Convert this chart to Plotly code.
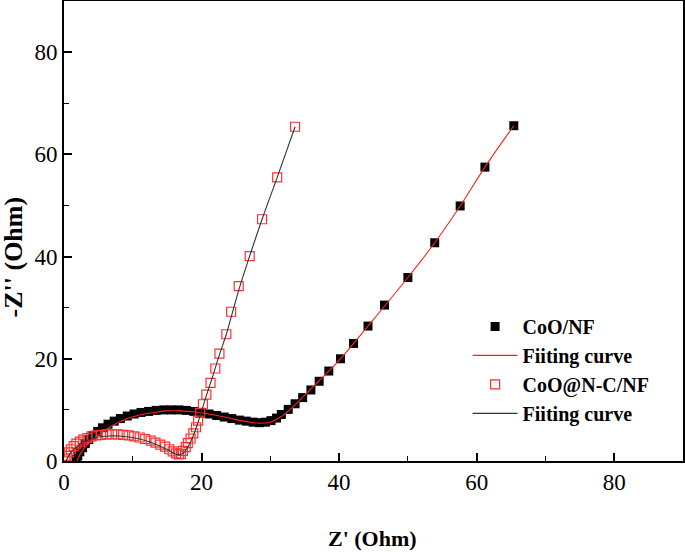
import plotly.graph_objects as go

# CoO/NF measured data
coo_x = [1.8, 2.0, 2.3, 2.7, 3.1, 3.6, 4.2, 4.9, 5.6, 6.4, 7.3, 8.2, 9.2, 10.2, 11.2, 12.3, 13.4, 14.5,
         15.6, 16.7, 17.8, 18.9, 20.0, 21.1, 22.2, 23.3, 24.4, 25.5, 26.5, 27.5, 28.4, 29.3, 30.1, 30.9,
         31.6, 32.6, 33.6, 34.7, 35.9, 37.1, 38.5, 40.2, 42.1, 44.2, 46.6, 50.0, 53.9, 57.6, 61.2, 65.4]
coo_y = [0.3, 1.0, 1.8, 2.6, 3.4, 4.2, 5.0, 5.8, 6.5, 7.2, 7.8, 8.3, 8.8, 9.2, 9.5, 9.7, 9.9, 10.0,
         10.0, 10.0, 9.9, 9.7, 9.5, 9.2, 8.9, 8.6, 8.3, 8.0, 7.8, 7.6, 7.5, 7.6, 7.9, 8.4,
         9.1, 10.1, 11.2, 12.4, 13.9, 15.6, 17.6, 20.0, 23.0, 26.4, 30.5, 35.9, 42.7, 49.9, 57.5, 65.6]

# CoO/NF fitting curve
coo_fit_x = [1.9, 2.3, 3.0, 4.0, 5.5, 7.0, 9.0, 11.0, 13.0, 15.0, 17.0, 19.0, 21.0, 23.0, 25.0,
             27.0, 28.5, 30.0, 31.5, 33.0, 35.0, 37.1, 40.2, 44.2, 50.0, 53.9, 57.6, 61.2, 65.4]
coo_fit_y = [0.0, 1.2, 2.6, 4.0, 5.6, 6.9, 8.2, 9.0, 9.5, 9.8, 9.8, 9.6, 9.2, 8.7, 8.1,
             7.6, 7.4, 7.6, 8.6, 10.2, 12.9, 15.7, 20.0, 26.4, 35.9, 42.7, 49.9, 57.5, 65.6]

# CoO@N-C/NF measured data
cnc_x = [0.2, 0.4, 0.7, 1.0, 1.4, 1.8, 2.3, 2.8, 3.4, 4.0, 4.7, 5.4, 6.2, 7.0, 7.8, 8.6, 9.4, 10.2,
         11.0, 11.8, 12.6, 13.3, 14.0, 14.7, 15.3, 15.8, 16.3, 16.7, 17.0, 17.3, 17.7, 18.0, 18.4,
         18.8, 19.2, 19.5, 19.8, 20.2, 20.7, 21.3, 22.0, 22.6, 23.6, 24.3, 25.4, 27.0, 28.8, 31.0, 33.6]
cnc_y = [0.3, 1.0, 1.7, 2.3, 2.9, 3.4, 3.8, 4.2, 4.5, 4.8, 5.0, 5.1, 5.2, 5.2, 5.2, 5.1, 5.0, 4.8,
         4.6, 4.3, 4.0, 3.6, 3.2, 2.8, 2.3, 1.9, 1.5, 1.3, 1.4, 2.0, 2.7, 3.5, 4.4,
         5.4, 6.6, 7.9, 9.4, 11.1, 13.0, 15.3, 18.1, 21.0, 24.8, 29.2, 34.2, 40.1, 47.3, 55.5, 65.4]

# CoO@N-C/NF fitting curve
cnc_fit_x = [0.3, 0.8, 1.5, 2.5, 3.5, 5.0, 6.5, 8.0, 9.5, 11.0, 12.5, 14.0, 15.2, 16.0, 16.6,
             17.2, 17.8, 18.5, 19.2, 19.8, 20.7, 21.7, 22.6, 23.6, 25.4, 27.0, 28.8, 31.0, 33.6]
cnc_fit_y = [0.0, 1.3, 2.4, 3.4, 4.1, 4.7, 4.9, 4.9, 4.7, 4.3, 3.7, 2.9, 2.1, 1.5, 1.2,
             1.4, 2.3, 4.0, 6.4, 8.9, 12.8, 16.9, 20.8, 24.8, 33.4, 40.1, 47.3, 55.5, 65.4]

x_ticks = [0, 20, 40, 60, 80]
y_ticks = [0, 20, 40, 60, 80]

FONT = "Liberation Serif"

fig = go.Figure()
fig.add_trace(go.Scatter(x=coo_x, y=coo_y, mode="markers", name="CoO/NF", legendgroup="a",
                         marker=dict(symbol="square", size=9, color="black",
                                     line=dict(width=0))))
fig.add_trace(go.Scatter(x=coo_fit_x, y=coo_fit_y, mode="lines", name="Fiiting curve",
                         legendgroup="b", line=dict(color="#ff2020", width=1.1, shape="spline")))
fig.add_trace(go.Scatter(x=cnc_x, y=cnc_y, mode="markers", name="CoO@N-C/NF", legendgroup="c",
                         marker=dict(symbol="square-open", size=9, color="#ff3030",
                                     line=dict(width=1.2))))
fig.add_trace(go.Scatter(x=cnc_fit_x, y=cnc_fit_y, mode="lines", name="Fiiting curve",
                         legendgroup="d", line=dict(color="#333333", width=1.1, shape="spline")))

axis_common = dict(
    showline=True, linecolor="black", linewidth=1.6, mirror=True,
    ticks="inside", ticklen=8, tickwidth=1.5, tickcolor="black",
    showgrid=False, zeroline=False, automargin=False,
    tickfont=dict(family=FONT, size=23, color="black"),
    minor=dict(ticks="inside", ticklen=5, tickwidth=1.3, tickcolor="black", dtick=10),
)

fig.update_xaxes(range=[0, 90], tickvals=x_ticks, ticktext=[str(v) for v in x_ticks], **axis_common)
fig.update_yaxes(range=[0, 90], tickvals=y_ticks, ticktext=[str(v) for v in y_ticks], **axis_common)

fig.update_layout(
    width=685, height=552,
    margin=dict(l=64, r=2, t=1, b=91),
    paper_bgcolor="white", plot_bgcolor="white",
    showlegend=True,
    legend=dict(x=0.652, y=0.335, xanchor="left", yanchor="top",
                bgcolor="rgba(0,0,0,0)", borderwidth=0,
                font=dict(family=FONT, size=20, color="black", weight="bold"),
                traceorder="grouped", tracegroupgap=0, itemwidth=45),
    annotations=[
        dict(text="<b>Z' (Ohm)</b>", xref="paper", yref="paper", x=0.498, y=-0.168,
             xanchor="center", yanchor="middle", showarrow=False,
             font=dict(family=FONT, size=22, color="black")),
        dict(text="<b>-Z'' (Ohm)</b>", xref="paper", yref="paper", x=-0.082, y=0.443,
             xanchor="center", yanchor="middle", showarrow=False, textangle=-90,
             font=dict(family=FONT, size=26, color="black")),
    ],
)

fig.write_html("out.html", config={"displayModeBar": False},
               post_script="document.body.style.margin='0px';")
